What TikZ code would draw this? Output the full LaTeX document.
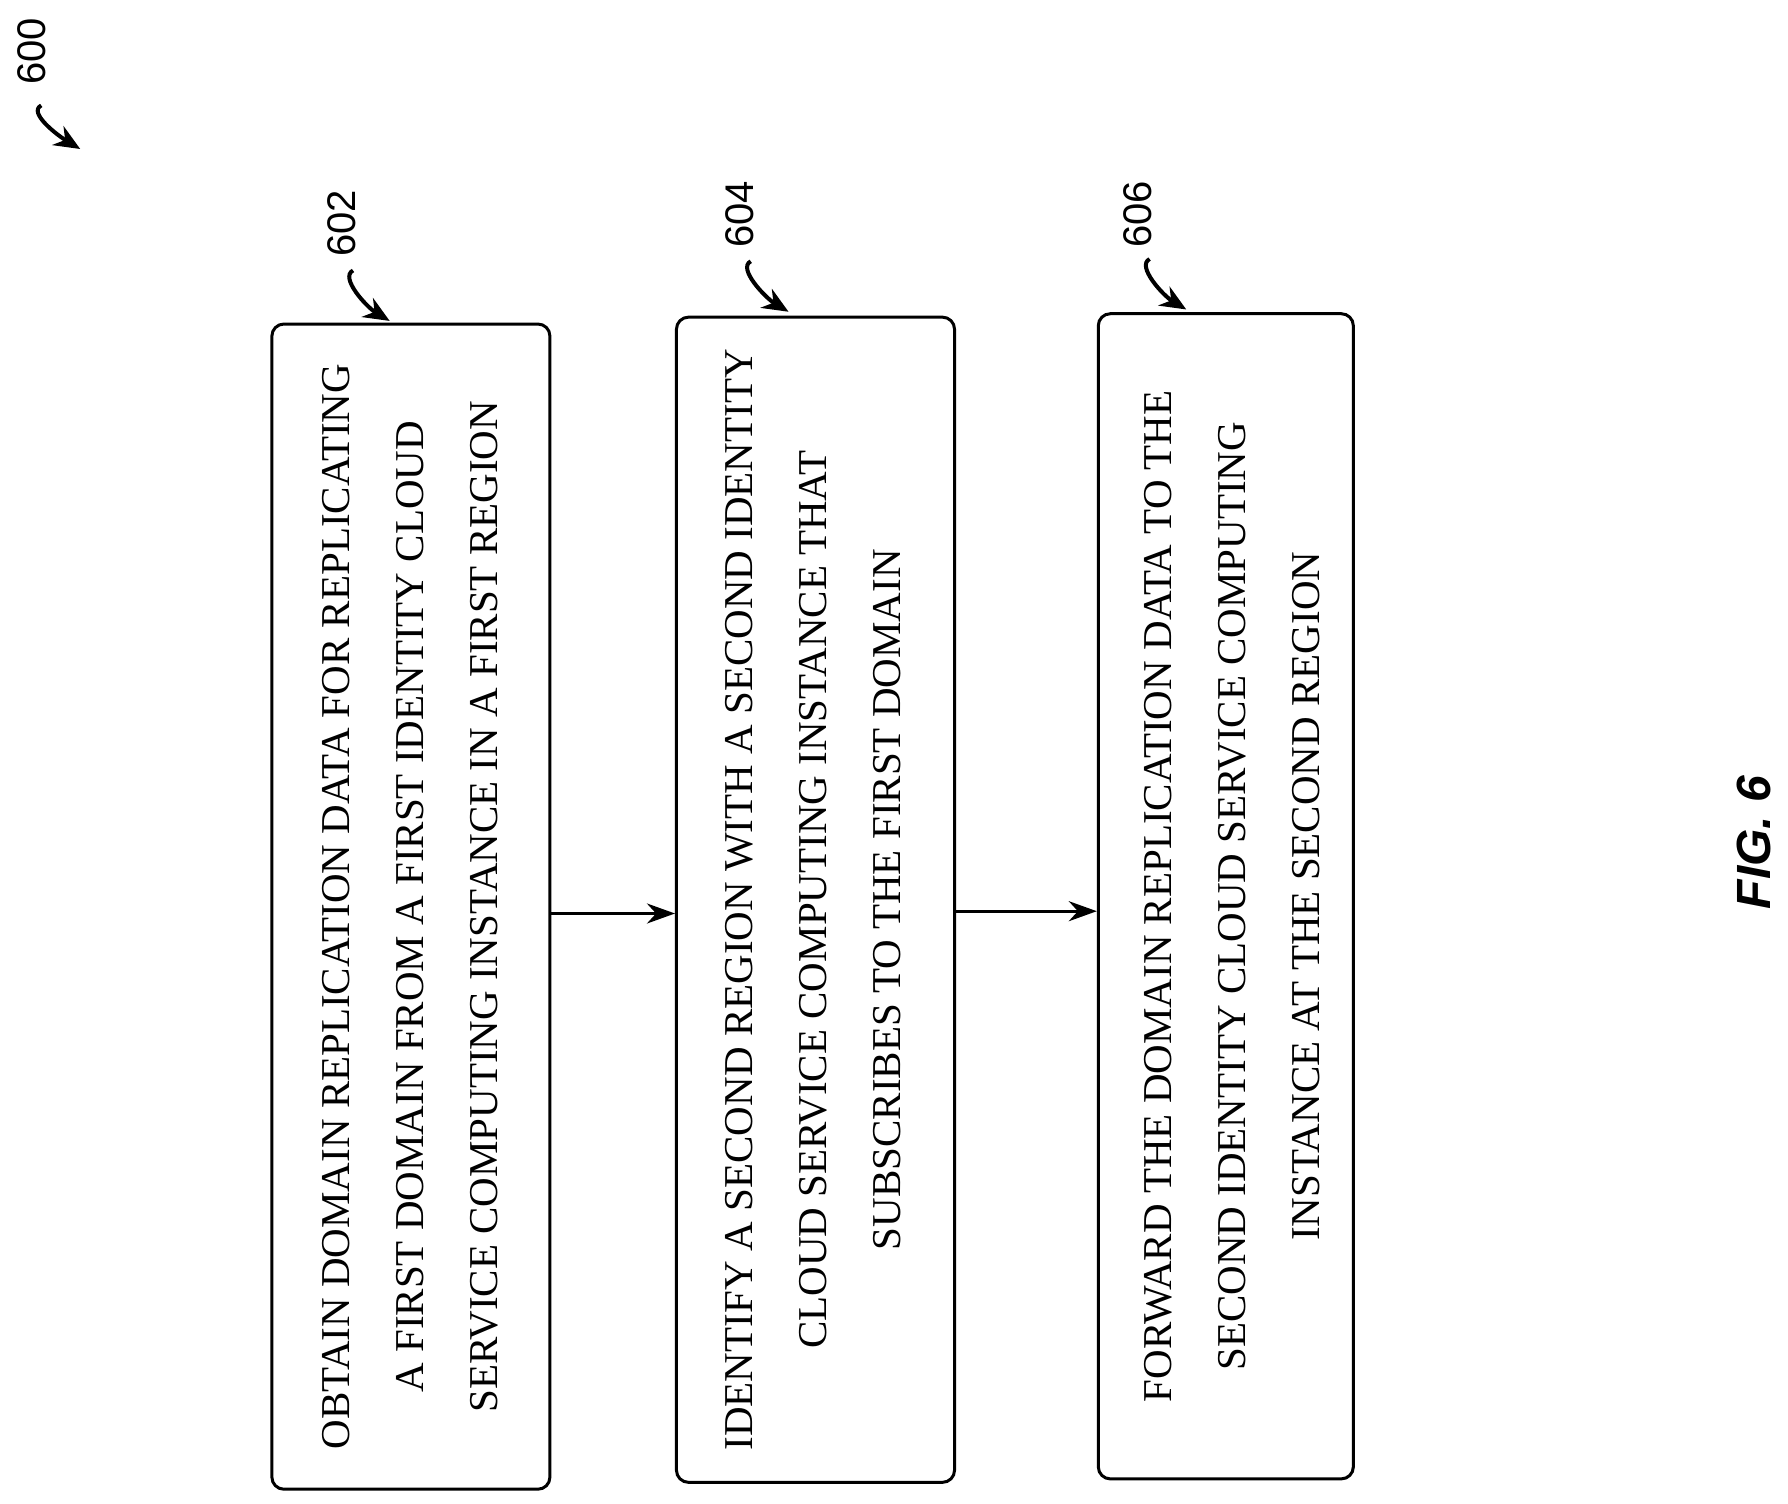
\documentclass[tikz,border=0pt]{standalone}
\usepackage{fontspec}
\setmainfont{Liberation Serif}
\newfontfamily\lab{Liberation Sans}
\usetikzlibrary{arrows.meta}
\begin{document}
\begin{tikzpicture}[x=1.146pt,y=-1.146pt,
  box/.style={draw,line width=3pt,rounded corners=12pt,minimum width=#1},
  txt/.style={rotate=90,align=center,font=\fontsize{41}{74}\selectfont},
  num/.style={rotate=90,font=\lab\fontsize{40}{44}\selectfont},
  arr/.style={-{Stealth[length=28pt,width=20pt]},line width=3pt},
  curl/.style={-{Stealth[length=26pt,width=22pt]},line width=4pt}]
\useasboundingbox (0,0) rectangle (1560,1312);
\node[box=278pt,minimum height=1165pt] (b1) at (358.5,791) {};
\node[box=278pt,minimum height=1165pt] (b2) at (711.5,785) {};
\node[box=255pt,minimum height=1165pt] (b3) at (1069.5,782) {};
\node[txt] (t1) at (358,791) {OBTAIN DOMAIN REPLICATION DATA FOR REPLICATING\\A FIRST DOMAIN FROM A FIRST IDENTITY CLOUD\\SERVICE COMPUTING INSTANCE IN A FIRST REGION};
\node[txt] (t2) at (709,785) {IDENTIFY A SECOND REGION WITH A SECOND IDENTITY\\CLOUD SERVICE COMPUTING INSTANCE THAT\\SUBSCRIBES TO THE FIRST DOMAIN};
\node[txt] (t3) at (1075,782) {FORWARD THE DOMAIN REPLICATION DATA TO THE\\SECOND IDENTITY CLOUD SERVICE COMPUTING\\INSTANCE AT THE SECOND REGION};
\draw[arr] (b1.east |- 0,797) -- (b2.west |- 0,797);
\draw[arr] (b2.east |- 0,795) -- (b3.west |- 0,795);
\node[num] (n600) at (28,45) {600};
\node[num] (n602) at (298,195) {602};
\node[num] (n604) at (645,187) {604};
\node[num] (n606) at (993,187) {606};
\coordinate (s600) at (36,92); \coordinate (e600) at (70,130);
\coordinate (s602) at (308,236); \coordinate (e602) at (340,280);
\coordinate (s604) at (655,228); \coordinate (e604) at (688,272);
\coordinate (s606) at (1003,226); \coordinate (e606) at (1035,270);
\foreach \n in {600,602,604,606}{
  \draw[curl] (s\n) .. controls +(-12,6) and +(-20,-12) .. (e\n);}
\node[rotate=90,font=\lab\bfseries\itshape\fontsize{48}{52}\selectfont] (fig) at (1530,735) {FIG. 6};
\end{tikzpicture}
\end{document}
